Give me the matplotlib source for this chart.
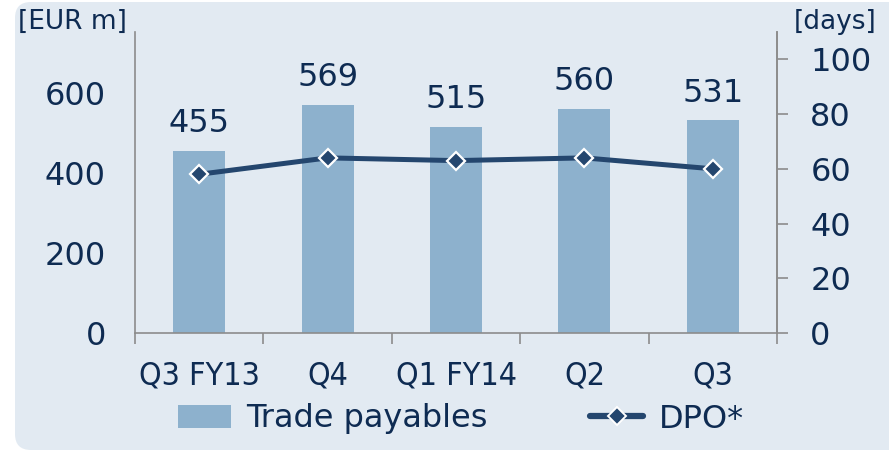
import matplotlib
matplotlib.use("Agg")
import matplotlib.pyplot as plt
from matplotlib.patches import FancyBboxPatch, Patch
from matplotlib.lines import Line2D
import numpy as np

categories = ["Q3 FY13", "Q4", "Q1 FY14", "Q2", "Q3"]
trade_payables = [455, 569, 515, 560, 531]
dpo = [58, 64, 63, 64, 60]

BG = "#E2EAF2"
BAR = "#8DB1CD"
LINE = "#24466E"
TXT = "#0E2B52"
SPINE = "#8C8C8C"
FS = 23

plt.rcParams["font.family"] = ["DejaVu Sans"]

fig = plt.figure(figsize=(8.89, 4.51), dpi=100)
fig.patch.set_facecolor("white")
bg = FancyBboxPatch((15 / 889, 1 / 451), 1.2, 448 / 451,
                    boxstyle="round,pad=0,rounding_size=0.018",
                    transform=fig.transFigure, facecolor=BG, edgecolor="none",
                    mutation_aspect=889 / 451, zorder=-10)
fig.patches.append(bg)

ax = fig.add_axes([135 / 889, (451 - 333) / 451, (777 - 135) / 889, (333 - 32) / 451])
ax.set_facecolor("none")
x = np.arange(len(categories))
bars = ax.bar(x, trade_payables, width=0.405, color=BAR, zorder=2)
ax.set_xlim(-0.5, len(categories) - 0.5)
ax.set_ylim(0, 752)
ax.set_yticks([0, 200, 400, 600])
ax.tick_params(axis="y", length=0, labelsize=FS, labelcolor=TXT, pad=21)
ax.set_xticks(np.arange(-0.5, len(categories), 1.0))
ax.set_xticklabels([])
ax.set_xticks(x, minor=True)
ax.set_xticklabels(categories, minor=True)
ax.tick_params(axis="x", which="major", length=8, color=SPINE, width=1.2, direction="out")
ax.tick_params(axis="x", which="minor", length=0, labelsize=FS, labelcolor=TXT, pad=20)
for lab in ax.get_xticklabels(minor=True):
    lab.set_fontstretch("condensed")
for s in ["top"]:
    ax.spines[s].set_visible(False)
for s in ["left", "bottom", "right"]:
    ax.spines[s].set_color(SPINE)
    ax.spines[s].set_linewidth(1.2)

for xi, v in zip(x, trade_payables):
    ax.annotate(f"{v}", (xi, v), xytext=(0, 8.5), textcoords="offset points",
                ha="center", va="bottom", fontsize=FS, color=TXT)

ax2 = ax.twinx()
ax2.set_ylim(0, 110)
ax2.set_yticks([0, 20, 40, 60, 80, 100])
ax2.tick_params(axis="y", length=8, color=SPINE, width=1.2, direction="out",
                labelsize=FS, labelcolor=TXT, pad=16)
ax2.spines["top"].set_visible(False)
ax2.spines["left"].set_visible(False)
ax2.spines["bottom"].set_visible(False)
ax2.spines["right"].set_color(SPINE)
ax2.spines["right"].set_linewidth(1.2)
ax2.plot(x, dpo, color=LINE, lw=3.6, marker="D", markersize=9,
         markerfacecolor=LINE, markeredgecolor="white", markeredgewidth=1.6, zorder=3)

fig.text(18 / 889, 1 - 22 / 451, "[EUR m]", fontsize=19, color=TXT, ha="left", va="center")
fig.text(877 / 889, 1 - 22 / 451, "[days]", fontsize=19, color=TXT, ha="right", va="center")

handles = [Patch(facecolor=BAR, edgecolor="none"),
           Line2D([0], [0], color=LINE, lw=4.5, solid_capstyle="round", marker="D",
                  markersize=9, markerfacecolor=LINE, markeredgecolor="white", markeredgewidth=1.4)]
leg = fig.legend(handles, ["Trade payables", "DPO*"], loc="center",
                 bbox_to_anchor=(461 / 889, 1 - 419 / 451), ncol=2, frameon=False,
                 fontsize=FS, labelcolor=TXT, handlelength=1.65, handleheight=0.75,
                 columnspacing=3.2, handletextpad=0.5)

fig.savefig("out.png", dpi=100, facecolor="white")
